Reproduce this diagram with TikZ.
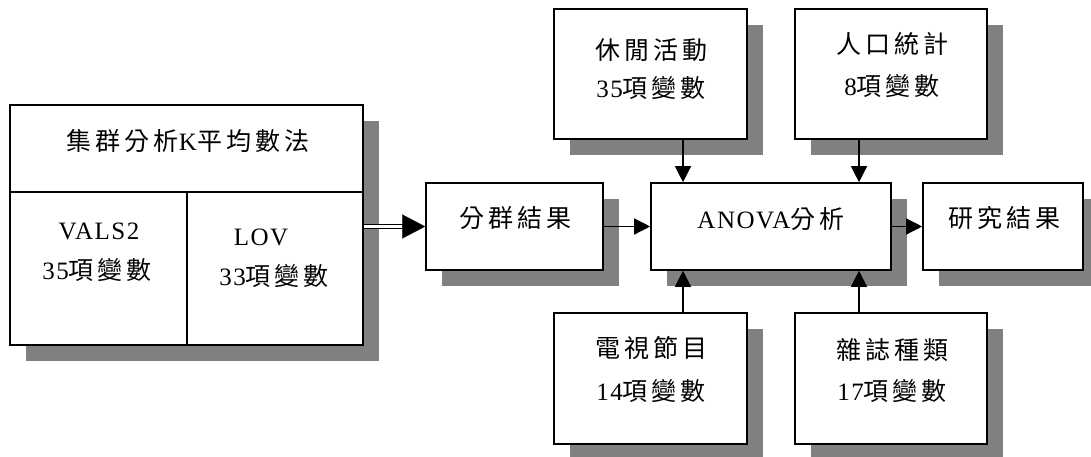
\documentclass[tikz,border=0pt]{standalone}
\usepackage{fontspec}
\setmainfont{Liberation Serif}[LetterSpace=6]
\newfontfamily\cjk{Noto Sans CJK TC}[LetterSpace=16]
\usetikzlibrary{arrows.meta,calc,shadows}
\newcommand\zhtxt[1]{{\cjk #1}}
\tikzset{
  box/.style={draw, fill=white, line width=1.6pt, inner sep=0pt,
    drop shadow={shadow xshift=16pt, shadow yshift=-16pt, opacity=1, fill=gray}},
  lbl/.style={anchor=base, inner sep=0pt, font=\fontsize{25}{30}\selectfont},
  arr/.style={line width=1.3pt, -{Triangle[length=16pt,width=16pt]}},
  dbl/.style={double, double distance=2.2pt, line width=1.8pt},
  bigtip/.style={line width=0.1pt, -{Triangle[length=23pt,width=24pt]}},
  divider/.style={line width=1.6pt},
}
\begin{document}
\begin{tikzpicture}[x=1pt,y=-1pt]
\useasboundingbox (0,0) rectangle (1091,457);
% boxes
\node[box, minimum width=353, minimum height=240] (big) at (186.5,225) {};
\node[box, minimum width=177, minimum height=87] (grp) at (514.5,226.5) {};
\node[box, minimum width=240, minimum height=87] (anova) at (771,226.5) {};
\node[box, minimum width=160, minimum height=87] (res) at (1003,226.5) {};
\node[box, minimum width=193, minimum height=130] (leis) at (650.5,74) {};
\node[box, minimum width=192, minimum height=130] (demo) at (891,74) {};
\node[box, minimum width=193, minimum height=131] (tv) at (650.5,378.5) {};
\node[box, minimum width=192, minimum height=131] (mag) at (891,378.5) {};
% dividers of the left box
\coordinate (d1) at (0,192);
\coordinate (d2) at (187,0);
\draw[divider] (d1 -| big.west) -- (d1 -| big.east);
\draw[divider] (d2 |- d1) -- (d2 |- big.south);
% texts
\node[lbl] (t1) at (188,150.5) {\zhtxt{集群分析}K\zhtxt{平均數法}};
\node[lbl] (t2) at (99,239) {VALS2};
\node[lbl] (t3) at (97,279.5) {35\zhtxt{項變數}};
\node[lbl] (t4) at (261,245) {LOV};
\node[lbl] (t5) at (274,285.5) {33\zhtxt{項變數}};
\node[lbl] (t6) at (515,227) {\zhtxt{分群結果}};
\node[lbl] (t7) at (771,228) {ANOVA\zhtxt{分析}};
\node[lbl] (t8) at (1004,227.5) {\zhtxt{研究結果}};
\node[lbl] (t9) at (651,59.5) {\zhtxt{休閒活動}};
\node[lbl] (t10) at (651,97.5) {35\zhtxt{項變數}};
\node[lbl] (t11) at (892,53.5) {\zhtxt{人口統計}};
\node[lbl] (t12) at (892,95.5) {8\zhtxt{項變數}};
\node[lbl] (t13) at (651,357.5) {\zhtxt{電視節目}};
\node[lbl] (t14) at (651,400.5) {14\zhtxt{項變數}};
\node[lbl] (t15) at (892,359.5) {\zhtxt{雜誌種類}};
\node[lbl] (t16) at (892,400.5) {17\zhtxt{項變數}};
% connectors
\coordinate (c1) at (683,0);
\coordinate (c2) at (859,0);
\draw[dbl, shorten >=22pt] (big.east |- grp.west) -- (grp.west);
\draw[bigtip] ($(grp.west)+(-22,0)$) -- (grp.west);
\draw[arr] (grp.east) -- (anova.west);
\draw[arr] (anova.east) -- (res.west);
\draw[arr] (c1 |- leis.south) -- (c1 |- anova.north);
\draw[arr] (c2 |- demo.south) -- (c2 |- anova.north);
\draw[arr] (c1 |- tv.north) -- (c1 |- anova.south);
\draw[arr] (c2 |- mag.north) -- (c2 |- anova.south);
\end{tikzpicture}
\end{document}
